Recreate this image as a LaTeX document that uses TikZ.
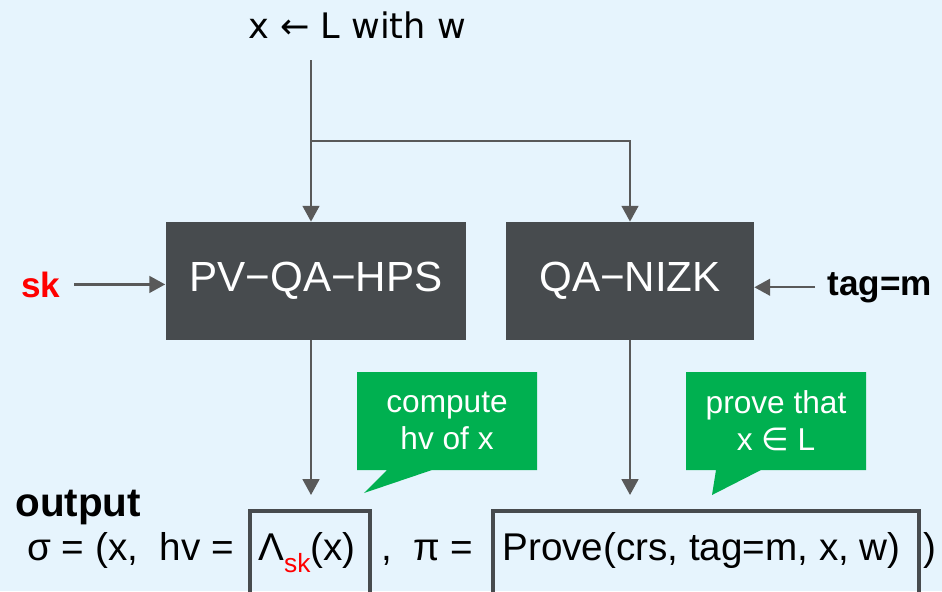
\documentclass[tikz,border=0pt]{standalone}
\usepackage{fontspec}
\setmainfont{Liberation Sans}
\newfontfamily\symfont{DejaVu Sans}
\usepackage{tikz}
\usetikzlibrary{calc,arrows.meta,positioning}
\definecolor{bgblue}{RGB}{230,244,253}
\definecolor{boxgray}{RGB}{71,75,78}
\definecolor{arrgray}{RGB}{89,89,89}
\definecolor{notegreen}{RGB}{0,176,80}

\begin{document}
\begin{tikzpicture}[x=0.02cm,y=-0.02cm]
          %% BACKGROUND
          \fill[bgblue] (0,0) rectangle (942,591);
          \useasboundingbox (0,0) rectangle (942,591);

          \tikzstyle{every node}=[inner sep=0pt]
          \tikzstyle{line}=[draw=arrgray,line width=1.3pt]
          \tikzstyle{arr}=[line,-{Triangle[length=9pt,width=9.5pt]}]
          \tikzstyle{block}=[fill=boxgray,text=white,font=\fontsize{24}{28}\selectfont,minimum height=2.36cm]
          \tikzstyle{note}=[fill=notegreen]
          \tikzstyle{notetext}=[text=white,align=center,font=\fontsize{18}{21}\selectfont]
          \tikzstyle{resbox}=[draw=boxgray,line width=2.4pt]
          \tikzstyle{outtext}=[anchor=base west,font=\fontsize{22}{26}\selectfont]

          % input statement
          \node[anchor=base,font=\symfont\fontsize{20}{24}\selectfont] (src) at (357,39) {x ← L with w};
          \coordinate (split) at (311,141);

          % the two blocks
          \node[block,minimum width=6.02cm] (hps) at (316,281) {PV−QA−HPS};
          \node[block,minimum width=4.96cm] (nizk) at (630,281) {QA−NIZK};

          \draw[line,shorten <=0.42cm] (src.south -| split) -- (split);
          \draw[arr] (split) -- (split |- hps.north);
          \draw[arr] (split) -| (nizk.north);

          % side inputs
          \node[anchor=base,text=red,font=\bfseries\fontsize{20}{24}\selectfont] (sk) at (41,297) {sk};
          \node[anchor=base west,font=\bfseries\fontsize{20}{24}\selectfont] (tag) at (827,295) {tag=m};
          \draw[arr,shorten <=0.27cm] (sk.east) -- (sk.east -| hps.west);
          \draw[arr,shorten <=0.24cm] (tag.west) -- (tag.west -| nizk.east);

          % outputs of the blocks
          \coordinate (hvin) at (311,495);
          \coordinate (pfin) at (630,495);
          \draw[arr] (hps.south -| hvin) -- (hvin);
          \draw[arr] (nizk.south -| pfin) -- (pfin);

          % green notes
          \fill[note] (357,372) -- (537,372) -- (537,470) -- (432,470) -- (364,493) -- (387,470) -- (357,470) -- cycle;
          \node[notetext] (hvnote) at (447,421) {compute\\hv of x};
          \fill[note] (686,372) -- (866,372) -- (866,470) -- (761,470) -- (712,495) -- (716,470) -- (686,470) -- cycle;
          \node[notetext] (pfnote) at (776,421) {prove that\\x {\symfont∈} L};

          % output line
          \node[anchor=base west,font=\bfseries\fontsize{23}{27}\selectfont] (out) at (15,516) {output};
          \node[outtext] (sig) at (27,560) {σ = (x,\ \ hv =};
          \draw[resbox] (250,511) rectangle (370,600);
          \node[outtext] (lam) at (258,560) {Λ\raisebox{-7pt}{\fontsize{15}{18}\selectfont\color{red}sk}(x)};
          \node[outtext] (pi) at (381,560) {,\ \ π =};
          \draw[resbox] (493,511) rectangle (919,600);
          \node[outtext] (prove) at (502,560) {Prove(crs, tag=m, x, w)};
          \node[outtext] (close) at (923,560) {)};
\end{tikzpicture}
\end{document}
